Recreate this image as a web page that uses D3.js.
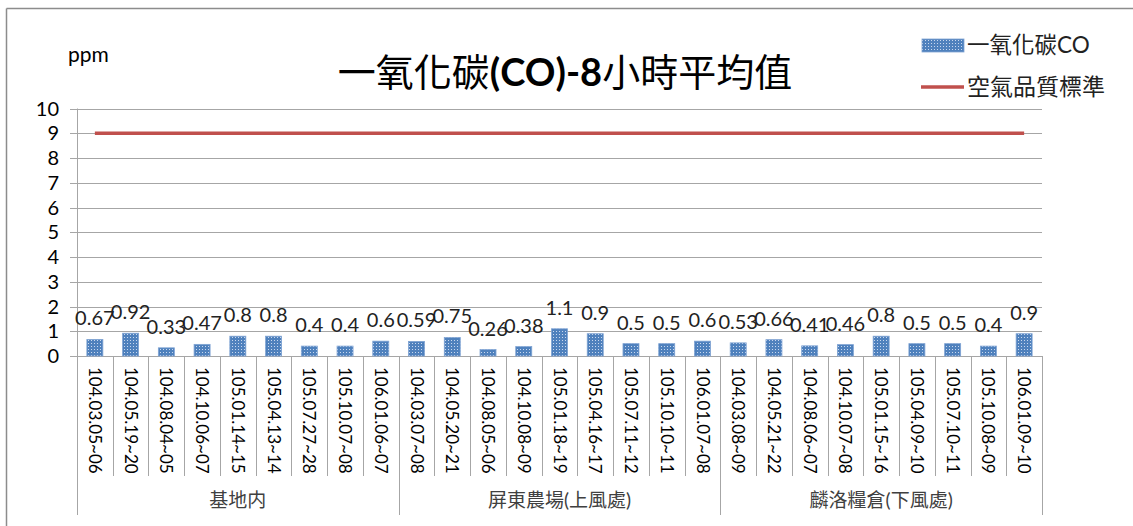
<!DOCTYPE html>
<html><head><meta charset="utf-8">
<script src="https://cdn.jsdelivr.net/npm/d3@7"></script>
<style>body{margin:0;background:#fff}svg{display:block}text{font-family:Lato,"Noto Sans CJK TC",sans-serif}</style>
</head><body><svg id="c" width="1133" height="526"></svg>
<script>
const groups = ["基地内", "屏東農場(上風處)", "麟洛糧倉(下風處)"];
const dates1 = ["104.03.05~06","104.05.19~20","104.08.04~05","104.10.06~07","105.01.14~15","105.04.13~14","105.07.27~28","105.10.07~08","106.01.06~07"];
const dates2 = ["104.03.07~08","104.05.20~21","104.08.05~06","104.10.08~09","105.01.18~19","105.04.16~17","105.07.11~12","105.10.10~11","106.01.07~08"];
const dates3 = ["104.03.08~09","104.05.21~22","104.08.06~07","104.10.07~08","105.01.15~16","105.04.09~10","105.07.10~11","105.10.08~09","106.01.09~10"];
const values1 = [0.67,0.92,0.33,0.47,0.8,0.8,0.4,0.4,0.6];
const values2 = [0.59,0.75,0.26,0.38,1.1,0.9,0.5,0.5,0.6];
const values3 = [0.53,0.66,0.41,0.46,0.8,0.5,0.5,0.4,0.9];
const standard = 9;
const yTicks = [0,1,2,3,4,5,6,7,8,9,10];

const data = [];
[[dates1,values1],[dates2,values2],[dates3,values3]].forEach(([d,v],gi)=>{
  d.forEach((lab,i)=>data.push({key:gi+"_"+i,label:lab,value:v[i],group:gi}));
});

const svg = d3.select("#c");
const L=77,R=1042,T=108.5,B=356;
const x = d3.scaleBand().domain(data.map(d=>d.key)).range([L,R]).paddingInner(0).paddingOuter(0);
const y = d3.scaleLinear().domain([0,10]).range([B,T]);

// outer border
svg.append("line").attr("x1",6.5).attr("x2",1133).attr("y1",8.5).attr("y2",8.5).attr("stroke","#8c8c8c").attr("stroke-width",1.5);
svg.append("line").attr("x1",6.5).attr("x2",6.5).attr("y1",8.5).attr("y2",526).attr("stroke","#8c8c8c").attr("stroke-width",1.5);

// pattern
const defs = svg.append("defs");
const pat = defs.append("pattern").attr("id","dots").attr("patternUnits","userSpaceOnUse").attr("width",3).attr("height",3);
pat.append("rect").attr("width",3).attr("height",3).attr("fill","#4f81bd");
pat.append("rect").attr("x",1).attr("y",1).attr("width",1).attr("height",1).attr("fill","#c9d8ee");

// grid
svg.append("g").selectAll("line").data(yTicks).join("line")
  .attr("x1",70).attr("x2",R).attr("y1",d=>Math.round(y(d))+0.5).attr("y2",d=>Math.round(y(d))+0.5)
  .attr("stroke","#a6a6a6").attr("stroke-width",1);
svg.append("g").selectAll("text").data(yTicks).join("text")
  .attr("x",59).attr("y",d=>y(d)).attr("dy","0.35em").attr("text-anchor","end")
  .attr("font-size",20).attr("fill","#000").text(d=>d);
// y axis line
svg.append("line").attr("x1",L+0.5).attr("x2",L+0.5).attr("y1",T).attr("y2",515).attr("stroke","#a6a6a6");

// category separators
const bw = x.bandwidth();
svg.append("g").selectAll("line").data(data.slice(1)).join("line")
  .attr("x1",d=>Math.round(x(d.key))+0.5).attr("x2",d=>Math.round(x(d.key))+0.5)
  .attr("y1",B).attr("y2",d=>(data.indexOf(d)%9===0)?515:476)
  .attr("stroke","#a6a6a6");
svg.append("line").attr("x1",R+0.5).attr("x2",R+0.5).attr("y1",B).attr("y2",515).attr("stroke","#a6a6a6");

// bars
const barW = 16;
svg.append("g").selectAll("rect").data(data).join("rect")
  .attr("x",d=>x(d.key)+bw/2-barW/2).attr("width",barW)
  .attr("y",d=>y(d.value)).attr("height",d=>B-y(d.value))
  .attr("fill","url(#dots)").attr("stroke","#7fa3d3").attr("stroke-width",0.8);

// data labels
svg.append("g").selectAll("text").data(data).join("text")
  .attr("x",d=>x(d.key)+bw/2).attr("y",d=>y(d.value)-14)
  .attr("text-anchor","middle").attr("font-size",20).attr("fill","#222").text(d=>d.value);

// standard line
svg.append("line").attr("x1",x(data[0].key)+bw/2).attr("x2",x(data[data.length-1].key)+bw/2)
  .attr("y1",y(standard)).attr("y2",y(standard)).attr("stroke","#c0504d").attr("stroke-width",3.5);

// x tick labels (rotated)
svg.append("g").selectAll("text").data(data).join("text")
  .attr("transform",d=>`translate(${x(d.key)+bw/2},367) rotate(90)`)
  .attr("dy","0.35em").attr("font-size",17).attr("fill","#000").text(d=>d.label);

// group labels
groups.forEach((g,i)=>{
  const x0 = x(data[i*9].key), x1 = x(data[i*9+8].key)+bw;
  svg.append("text").attr("x",(x0+x1)/2).attr("y",500).attr("dy","0.35em").attr("text-anchor","middle")
    .attr("font-size",19).attr("fill","#404040").text(g);
});

// title
const title = svg.append("text").attr("x",565).attr("y",86).attr("text-anchor","middle").attr("font-size",38).attr("fill","#000");
title.append("tspan").text("一氧化碳");
title.append("tspan").attr("font-weight","bold").text("(CO)-8");
title.append("tspan").text("小時平均值");

// ppm
svg.append("text").attr("x",68).attr("y",55).attr("dy","0.35em").attr("font-size",21).attr("fill","#000").text("ppm");

// legend
svg.append("rect").attr("x",922).attr("y",39).attr("width",42).attr("height",13).attr("fill","url(#dots)").attr("stroke","#7fa3d3").attr("stroke-width",0.8);
svg.append("text").attr("x",967).attr("y",45.5).attr("dy","0.35em").attr("font-size",22.5).attr("fill","#222").text("一氧化碳CO");
svg.append("line").attr("x1",921).attr("x2",964).attr("y1",87).attr("y2",87).attr("stroke","#c0504d").attr("stroke-width",3.5);
svg.append("text").attr("x",967).attr("y",87).attr("dy","0.35em").attr("font-size",23).attr("fill","#222").text("空氣品質標準");
</script></body></html>
